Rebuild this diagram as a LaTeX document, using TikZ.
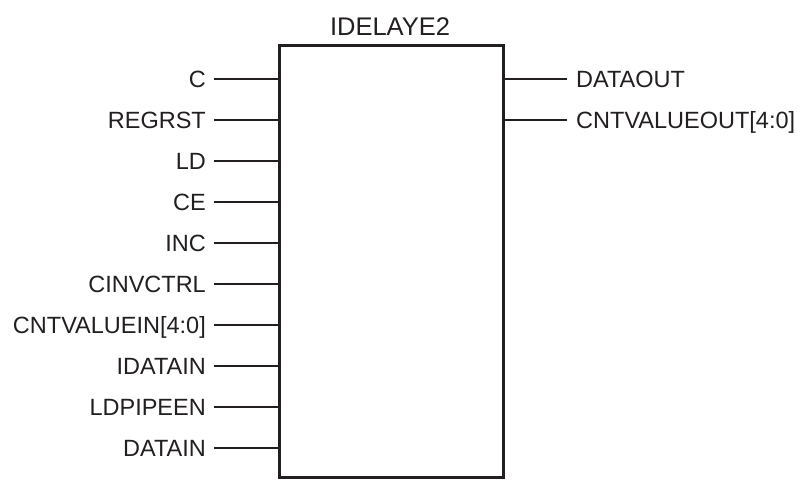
\documentclass[tikz,border=0pt]{standalone}
\usepackage{fontspec}
\setmainfont{Liberation Sans}
\definecolor{inkgray}{RGB}{35,31,32}
\tikzset{
	pinlabel/.style={inner ysep=0pt, text height=16.8pt, text depth=0pt, text=inkgray, font=\fontsize{23.5}{28}\selectfont},
	pinwire/.style={inkgray, line width=1.4pt},
}
\begin{document}
\begin{tikzpicture}[x=1pt,y=-1pt]
		\useasboundingbox (0,0) rectangle (799,479);
		\node[draw=inkgray, line width=3pt, minimum width=224pt, minimum height=432pt, inner sep=0pt] (idelay) at (391,261) {};
		\node[anchor=base, inner sep=0pt, text=inkgray, font=\fontsize{25.5}{30}\selectfont] (title) at (390,35) {IDELAYE2};
		% inputs
		\foreach \name [count=\i from 0] in {C,REGRST,LD,CE,INC,CINVCTRL,CNTVALUEIN[4:0],IDATAIN,LDPIPEEN,DATAIN} {
			\node[pinlabel, anchor=east, inner xsep=8pt] (in\i) at (214,79+41*\i) {\name};
			\draw[pinwire] (in\i.east) -- (in\i.east -| idelay.west);
		}
		% outputs
		\foreach \name [count=\i from 0] in {DATAOUT,CNTVALUEOUT[4:0]} {
			\node[pinlabel, anchor=west, inner xsep=9pt] (out\i) at (567,79+41*\i) {\name};
			\draw[pinwire] (out\i.west) -- (out\i.west -| idelay.east);
		}
	\end{tikzpicture}
\end{document}
